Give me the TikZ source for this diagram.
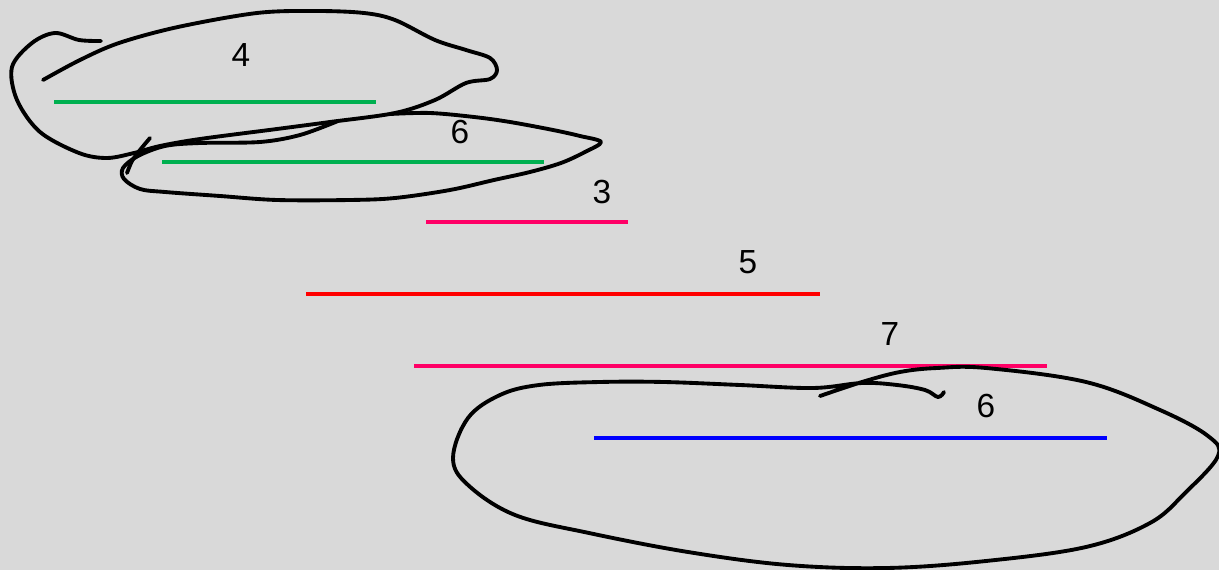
\documentclass[tikz,border=0pt]{standalone}
\usepackage{fontspec}
\setmainfont{Liberation Sans}
\definecolor{bg}{RGB}{217,217,217}
\definecolor{grn}{RGB}{0,176,80}
\definecolor{pnk}{RGB}{255,0,102}
\definecolor{rd}{RGB}{255,0,0}
\definecolor{blu}{RGB}{0,0,255}
\begin{document}
\begin{tikzpicture}[x=0.02cm,y=-0.02cm,
  seg/.style={line width=2.3pt},
  loopline/.style={line width=2.2pt, black, line cap=round, line join=round},
  lbl/.style={font=\fontsize{19}{19}\selectfont, inner sep=0pt}]
\fill[bg] (0,0) rectangle (1219,570);
\useasboundingbox (0,0) rectangle (1219,570);
% segments
\coordinate (g1a) at (54,102); \coordinate (g1b) at (376,102);
\coordinate (g2a) at (162,162); \coordinate (g2b) at (544,162);
\coordinate (p3a) at (426,222); \coordinate (p3b) at (628,222);
\coordinate (r5a) at (306,294); \coordinate (r5b) at (820,294);
\coordinate (p7a) at (414,366); \coordinate (p7b) at (1047,366);
\coordinate (b6a) at (594,438); \coordinate (b6b) at (1107,438);
\draw[seg, grn] (g1a) -- (g1b);
\draw[seg, grn] (g2a) -- (g2b);
\draw[seg, pnk] (p3a) -- (p3b);
\draw[seg, rd] (r5a) -- (r5b);
\draw[seg, pnk] (p7a) -- (p7b);
\draw[seg, blu] (b6a) -- (b6b);
% labels
\node[lbl] (l4) at (241,55) {4};
\node[lbl] (l6a) at (460,132) {6};
\node[lbl] (l3) at (602,192) {3};
\node[lbl] (l5) at (748,262) {5};
\node[lbl] (l7) at (890,334) {7};
\node[lbl] (l6b) at (986,406) {6};
% loop 1
\draw[loopline] plot[smooth, tension=0.55] coordinates {
 (43,80) (80,60) (119,43) (178,27) (257,13) (316,11) (364,13) (395,20)
 (435,40) (466,50) (490,58) (497,70) (490,79) (466,83) (435,100) (395,113)
 (330,122) (277,129) (200,139) (160,146) (134,153) (107,158) (79,153)
 (40,132) (17,100) (12,67) (32,43) (55,33) (79,40) (101,41)};
% loop 2
\draw[loopline] plot[smooth, tension=0.55] coordinates {
 (338,121) (300,135) (260,142) (200,143) (165,146) (138,156) (123,168)
 (124,179) (140,189) (165,192) (220,196) (277,200) (350,200) (395,198)
 (450,190) (494,180) (530,172) (561,163) (585,152) (601,142) (580,136)
 (553,130) (510,122) (474,117) (430,113) (390,114)};
\draw[loopline] plot[smooth, tension=0.5] coordinates {
 (150,138) (140,150) (132,161) (127,173)};
% loop 3
\draw[loopline] plot[smooth, tension=0.6] coordinates {
 (820,396) (862,382) (900,372) (937,368) (986,368) (1086,382) (1160,410)
 (1208,436) (1218,456) (1185,493) (1150,523) (1086,547) (986,561)
 (887,568) (788,565) (688,552) (589,533) (515,515) (468,485) (453,458)
 (468,418) (500,395) (539,385) (600,382) (664,382) (740,385) (813,388)
 (862,383) (897,385) (925,390) (938,397) (944,392)};
\end{tikzpicture}
\end{document}
